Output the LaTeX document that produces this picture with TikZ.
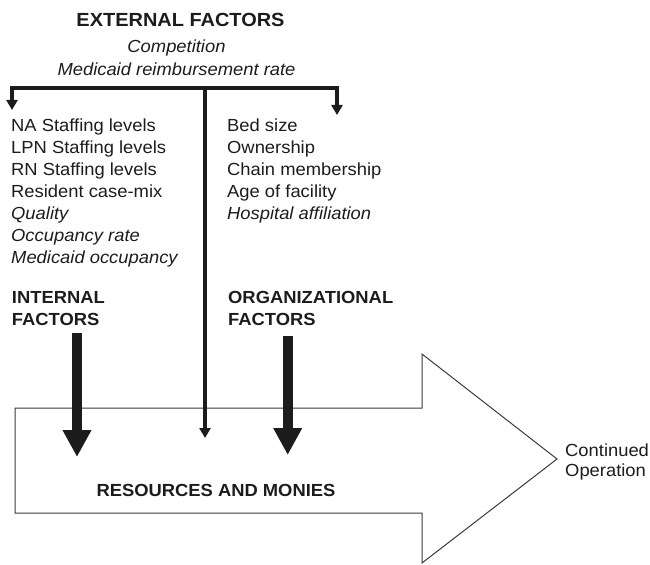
\documentclass[tikz,border=0pt]{standalone}
\usepackage{fontspec}
\setmainfont{Liberation Sans}[FakeStretch=1.05]
\usetikzlibrary{arrows.meta}
\definecolor{ink}{HTML}{1C1C1C}
\definecolor{rim}{HTML}{3A3A3A}
\begin{document}
\begin{tikzpicture}[x=1bp,y=-1bp,
  txt/.style={inner sep=0pt, anchor=base west, text=ink, font=\fontsize{17.5bp}{22bp}\selectfont},
  ctr/.style={txt, anchor=base},
  hd/.style={txt, font=\fontsize{17.5bp}{22bp}\selectfont\bfseries},
  bighd/.style={ctr, font=\fontsize{19bp}{22bp}\selectfont\bfseries},
  feed/.style={draw=ink, line width=4bp, line join=miter,
    arrows={-Triangle[width=11bp,length=10bp]}},
  feedboth/.style={feed, arrows={Triangle[width=11bp,length=10bp]-Triangle[width=11bp,length=10bp]}},
  fat/.style={draw=ink, line width=10bp,
    arrows={-Triangle[width=27bp,length=27bp]}},
  outline/.style={draw=rim, line width=1bp, line join=miter}]
\useasboundingbox (0,0) rectangle (650,565);

% large block arrow carrying resources toward continued operation
\draw[outline] (15,408) -- (422,408) -- (422,354) -- (557,459)
  -- (422,563) -- (422,513) -- (15,513) -- cycle;
\node[ctr, font=\fontsize{17.5bp}{22bp}\selectfont\bfseries] (res) at (216,496.7) {RESOURCES AND MONIES};
\node[txt] (cont) at (565,456) {Continued};
\node[txt] (oper) at (565,476) {Operation};

% external factors heading
\node[bighd] (ext) at (180.5,26.7) {EXTERNAL FACTORS};
\node[ctr] (comp) at (176.5,52.7) {\itshape Competition};
\node[ctr] (mrr) at (176.5,76) {\itshape Medicaid reimbursement rate};

% distribution bar and the three branches
\coordinate (lcorner) at (12,88);
\coordinate (rcorner) at (337,88);
\coordinate (ltip) at (12,110);
\coordinate (rtip) at (337,115);
\coordinate (junction) at (205,88);
\coordinate (ctip) at (205,438);
\draw[feedboth] (ltip) -- (lcorner) -- (rcorner) -- (rtip);
\draw[feed, line width=3.5bp] (junction) -- (ctip);

% internal factor list
\foreach \t [count=\i from 0] in {NA Staffing levels, LPN Staffing levels,
    RN Staffing levels, Resident case-mix, \textit{Quality},
    \textit{Occupancy rate}, \textit{Medicaid occupancy}}
  \node[txt] (int\i) at (11,{131.7+22*\i}) {\t};

% organizational factor list
\foreach \t [count=\i from 0] in {Bed size, Ownership, Chain membership,
    Age of facility, \textit{Hospital affiliation}}
  \node[txt] (org\i) at (227,{131.7+22*\i}) {\t};

% group headings
\node[hd] (inthd1) at (11.7,303.3) {INTERNAL};
\node[hd] (inthd2) at (11.7,325) {FACTORS};
\node[hd] (orghd1) at (228,303.3) {ORGANIZATIONAL};
\node[hd] (orghd2) at (228,325) {FACTORS};

% heavy arrows into the resource pool
\coordinate (ia) at (77,333);
\coordinate (ib) at (77,457);
\coordinate (oa) at (287.7,336);
\coordinate (ob) at (287.7,455);
\draw[fat] (ia) -- (ib);
\draw[fat] (oa) -- (ob);
\end{tikzpicture}
\end{document}
